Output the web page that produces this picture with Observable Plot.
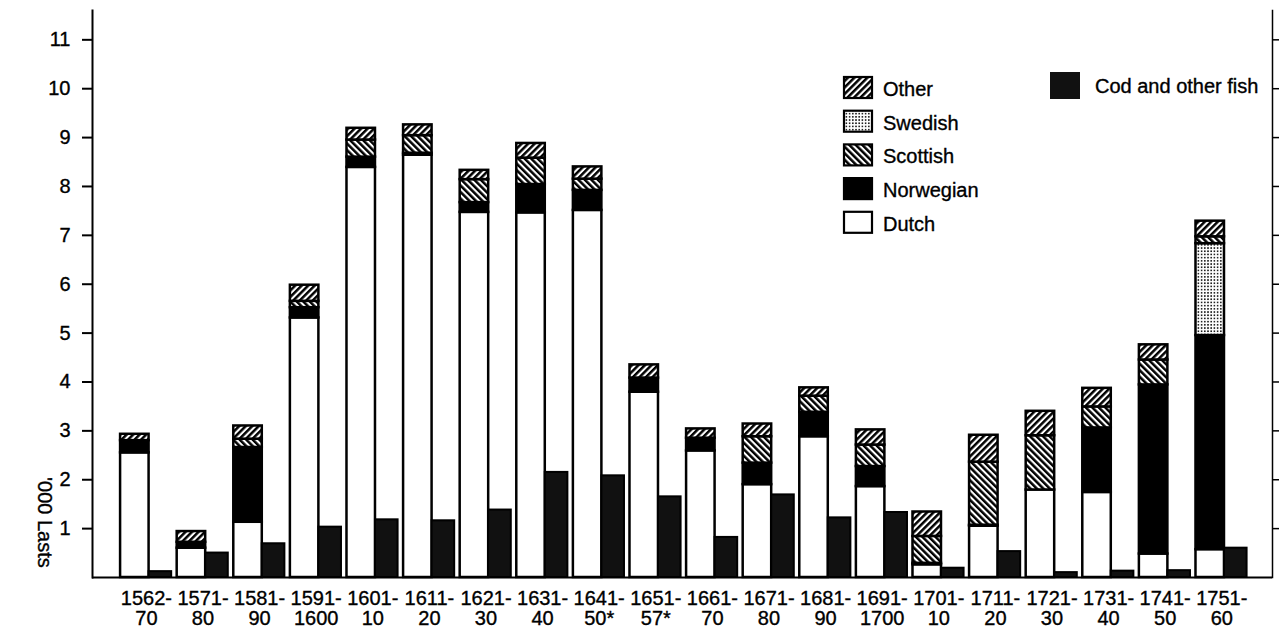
<!DOCTYPE html>
<html><head><meta charset="utf-8">
<script src="https://cdn.jsdelivr.net/npm/d3@7"></script>
<script src="https://cdn.jsdelivr.net/npm/@observablehq/plot@0.6"></script>
<style>
html,body{margin:0;padding:0;background:#fff;}
#chart{width:1279px;height:632px;position:relative;}
#chart svg text{stroke:black;stroke-width:0.35px;}
</style></head><body><div id="chart"></div>
<script>
// ---- data ('000 lasts) ----
const periods = ["1562-70","1571-80","1581-90","1591-1600","1601-10","1611-20","1621-30","1631-40","1641-50*","1651-57*","1661-70","1671-80","1681-90","1691-1700","1701-10","1711-20","1721-30","1731-40","1741-50","1751-60"];
const periodLabels = ["1562-\n70","1571-\n80","1581-\n90","1591-\n1600","1601-\n10","1611-\n20","1621-\n30","1631-\n40","1641-\n50*","1651-\n57*","1661-\n70","1671-\n80","1681-\n90","1691-\n1700","1701-\n10","1711-\n20","1721-\n30","1731-\n40","1741-\n50","1751-\n60"];
const dutch     = [2.55,0.60,1.13,5.31,8.39,8.64,7.47,7.46,7.51,3.79,2.59,1.90,2.88,1.86,0.26,1.05,1.79,1.74,0.48,0.57];
const norwegian = [0.25,0.12,1.53,0.21,0.21,0.04,0.20,0.58,0.41,0.29,0.26,0.44,0.50,0.41,0.03,0.02,0.00,1.32,3.46,4.38];
const swedish   = [0,0,0,0,0,0,0,0,0,0,0,0,0,0,0,0,0,0,0,1.88];
const scottish  = [0,0,0.17,0.13,0.35,0.36,0.47,0.54,0.23,0,0,0.54,0.33,0.44,0.55,1.29,1.11,0.43,0.51,0.14];
const other     = [0.13,0.22,0.27,0.33,0.24,0.22,0.19,0.30,0.25,0.27,0.19,0.26,0.17,0.31,0.50,0.55,0.50,0.38,0.31,0.32];
const codFish   = [0.12,0.50,0.69,1.03,1.18,1.16,1.38,2.15,2.08,1.65,0.82,1.69,1.22,1.33,0.19,0.53,0.10,0.13,0.14,0.60];
const seriesNames = ["Dutch","Norwegian","Swedish","Scottish","Other"];
const seriesFills = ["white","black","url(#pat-swedish)","url(#pat-scottish)","url(#pat-other)"];
const yTicks = [1,2,3,4,5,6,7,8,9,10,11];
const legendLeft = ["Other","Swedish","Scottish","Norwegian","Dutch"];
const legendCod = "Cod and other fish";
const yLabel = "'000 Lasts";

const seriesArrays = [dutch, norwegian, swedish, scottish, other];
const rows = [];
periods.forEach((p, i) => seriesArrays.forEach((arr, j) => {
  if (arr[i] > 0) rows.push({period: p, series: seriesNames[j], value: arr[i]});
}));
const codRows = periods.map((p, i) => ({period: p, value: codFish[i]}));
const labelOf = new Map(periods.map((p, i) => [p, periodLabels[i]]));

const FONT = "'Liberation Sans', Arial, Helvetica, sans-serif";

const plot = Plot.plot({
  width: 1279, height: 632,
  marginLeft: 92, marginRight: 7, marginTop: 10, marginBottom: 55,
  style: {fontFamily: FONT, fontSize: "20px", background: "white", color: "black", overflow: "visible"},
  x: {type: "band", domain: periods, paddingInner: 0, paddingOuter: 0.424, align: 0.533, round: false, label: null},
  y: {domain: [0, 11.6], label: null},
  color: {domain: seriesNames, range: seriesFills},
  marks: [
    Plot.barY(rows, Plot.stackY({x: "period", y: "value", fill: "series", stroke: "black", strokeWidth: 2.5, insetLeft: 2.5, insetRight: 25.6})),
    Plot.barY(codRows, {x: "period", y: "value", fill: "#111", stroke: "black", strokeWidth: 2, insetLeft: 31, insetRight: 3}),
    Plot.ruleY([0], {strokeWidth: 2}),
    Plot.frame({anchor: "left", strokeWidth: 2}),
    Plot.frame({anchor: "right", strokeWidth: 1.5}),
    Plot.axisY({anchor: "left", ticks: yTicks, tickSize: 10, tickPadding: 12, strokeWidth: 2, fontSize: 20, label: null}),
    Plot.axisY({anchor: "right", ticks: yTicks, tickSize: 7, strokeWidth: 1.5, tickFormat: () => "", label: null}),
    Plot.axisX({anchor: "bottom", tickSize: 0, tickPadding: 13, fontSize: 20, tickFormat: p => labelOf.get(p), label: null}),
    Plot.text([yLabel], {frameAnchor: "bottom-left", dx: -55, dy: -55, rotate: 90, textAnchor: "middle", fontSize: 20, letterSpacing: 4, text: d => d})
  ]
});

const svg = d3.select(plot);
const defs = svg.insert("defs", ":first-child");
function hatch(id, angle) {
  const p = defs.append("pattern").attr("id", id).attr("patternUnits", "userSpaceOnUse")
    .attr("width", 4.6).attr("height", 4.6).attr("patternTransform", `rotate(${angle})`);
  p.append("rect").attr("width", 4.6).attr("height", 4.6).attr("fill", "white");
  p.append("rect").attr("width", 2.5).attr("height", 4.6).attr("fill", "black");
}
hatch("pat-other", 45);
hatch("pat-scottish", -45);
const dp = defs.append("pattern").attr("id", "pat-swedish").attr("patternUnits", "userSpaceOnUse").attr("width", 3.2).attr("height", 3.2);
dp.append("rect").attr("width", 3.2).attr("height", 3.2).attr("fill", "white");
dp.append("circle").attr("cx", 1.6).attr("cy", 1.6).attr("r", 0.9).attr("fill", "black");

// legend
const lg = svg.append("g").attr("font-family", FONT).attr("font-size", 20).attr("fill", "black").attr("text-anchor", "start");
const legFill = {Other: "url(#pat-other)", Swedish: "url(#pat-swedish)", Scottish: "url(#pat-scottish)", Norwegian: "black", Dutch: "white"};
legendLeft.forEach((name, i) => {
  const top = 77 + i * 33.7;
  lg.append("rect").attr("x", 844).attr("y", top).attr("width", 28).attr("height", 21)
    .attr("fill", legFill[name]).attr("stroke", "black").attr("stroke-width", 2.2);
  lg.append("text").attr("x", 883).attr("y", top + 19).attr("text-anchor", "start").text(name);
});
lg.append("rect").attr("x", 1050).attr("y", 72).attr("width", 30).attr("height", 27).attr("fill", "#111");
lg.append("text").attr("x", 1095).attr("y", 93).attr("text-anchor", "start").text(legendCod);

document.getElementById("chart").appendChild(plot);
</script>
</body></html>
